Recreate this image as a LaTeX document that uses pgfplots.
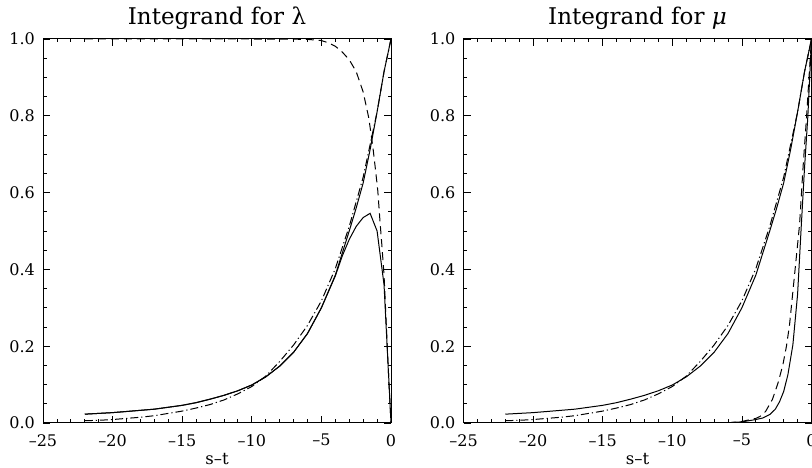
\documentclass[border=0pt]{standalone}
\usepackage{fontspec}
\setmainfont{DejaVu Serif}
\usepackage{pgfplots}
\pgfplotsset{compat=1.18}
\pgfplotsset{
  panel/.style={
    scale only axis, width=348bp, height=384bp,
    xmin=-25, xmax=0, ymin=0, ymax=1,
    xtick={-25,-20,-15,-10,-5,0},
    xticklabels={–25,–20,–15,–10,–5,0},
    ytick={0,0.2,0.4,0.6,0.8,1.0},
    yticklabels={0.0,0.2,0.4,0.6,0.8,1.0},
    minor x tick num=4, minor y tick num=3,
    major tick length=7bp, minor tick length=3.5bp,
    tick style={black, line width=0.8bp},
    axis line style={line width=1bp},
    /pgf/number format/assume math mode=true,
    tick label style={font=\fontsize{16bp}{18bp}\selectfont, inner sep=0pt},
    xticklabel style={anchor=north, yshift=-11bp},
    yticklabel style={anchor=east, xshift=-8bp},
    xlabel={s–t},
    xlabel style={font=\fontsize{16.5bp}{18bp}\selectfont, inner sep=0pt, at={(axis description cs:0.5,0)}, anchor=base, yshift=-41bp},
    title style={font=\fontsize{23bp}{26bp}\selectfont, inner sep=0pt, at={(axis description cs:0.5,1)}, anchor=base, yshift=9bp},
    every axis plot/.append style={line width=1bp, black},
  },
  dsh/.style={dash pattern=on 8bp off 5bp},
  dshdot/.style={dash pattern=on 8bp off 3bp on 1.2bp off 3bp},
}
\pgfplotstableread{
x y
-22 0.023
-21 0.025
-20 0.027
-19 0.030
-18 0.033
-17 0.036
-16 0.041
-15 0.046
-14 0.053
-13 0.062
-12 0.072
-11 0.084
-10 0.099
-9 0.120
-8 0.148
-7 0.184
-6 0.233
-5 0.300
-4 0.385
-3 0.500
-2.5 0.560
-2 0.625
-1.5 0.712
-1 0.810
-0.5 0.915
0 1.0
}\curveA
\pgfplotstableread{
x y
-22 0.006
-21 0.007
-20 0.009
-19 0.012
-18 0.015
-17 0.019
-16 0.025
-15 0.031
-14 0.039
-13 0.048
-12 0.060
-11 0.076
-10 0.095
-9 0.122
-8 0.160
-7 0.203
-6 0.254
-5 0.318
-4 0.402
-3 0.512
-2 0.640
-1 0.810
-0.5 0.915
0 1.0
}\curveDD
\pgfplotstableread{
x y
-22 0.023
-21 0.025
-20 0.027
-19 0.030
-18 0.033
-17 0.036
-16 0.041
-15 0.046
-14 0.053
-13 0.062
-12 0.072
-11 0.084
-10 0.099
-9 0.120
-8 0.148
-7 0.184
-6 0.233
-5 0.300
-4 0.383
-3.5 0.435
-3 0.478
-2.5 0.512
-2 0.535
-1.5 0.546
-1.0 0.500
-0.5 0.360
0 0.0
}\curveB
\pgfplotstableread{
x y
-22 1.0
-10 1.0
-7 0.9995
-6 0.999
-5 0.996
-4.5 0.99
-4 0.981
-3.5 0.966
-3 0.946
-2.5 0.915
-2 0.862
-1.6 0.795
-1.3 0.718
-1.1 0.655
-0.95 0.605
-0.8 0.530
-0.65 0.460
-0.5 0.385
-0.3 0.225
-0.15 0.105
0 0.0
}\curveD
\pgfplotstableread{
x y
-7 0.0
-6 0.0006
-5 0.003
-4.5 0.006
-4 0.009
-3.5 0.013
-3 0.022
-2.6 0.036
-2.3 0.055
-2 0.082
-1.7 0.125
-1.34 0.203
-1 0.335
-0.74 0.510
-0.5 0.665
-0.26 0.800
-0.13 0.900
0 1.0
}\steepS
\pgfplotstableread{
x y
-6 0.0005
-5 0.004
-4.5 0.008
-4 0.012
-3.7 0.017
-3.3 0.030
-2.8 0.062
-2.4 0.105
-2.06 0.151
-1.8 0.200
-1.58 0.255
-1.22 0.385
-0.86 0.516
-0.6 0.670
-0.35 0.800
-0.18 0.900
0 1.0
}\steepD
\begin{document}
\begin{tikzpicture}
\path[use as bounding box] (0,0) rectangle (812bp,468bp);
\begin{axis}[panel, at={(43bp,45bp)}, anchor=south west, title={Integrand for λ}]
\addplot[dshdot] table[x=x,y=y] {\curveDD};
\addplot[] table[x=x,y=y] {\curveA};
\addplot[] table[x=x,y=y] {\curveB};
\addplot[dsh] table[x=x,y=y] {\curveD};
\end{axis}
\begin{axis}[panel, at={(463.5bp,45bp)}, anchor=south west, title={Integrand for \textit{μ}}]
\addplot[dshdot] table[x=x,y=y] {\curveDD};
\addplot[] table[x=x,y=y] {\curveA};
\addplot[dsh] table[x=x,y=y] {\steepD};
\addplot[] table[x=x,y=y] {\steepS};
\end{axis}
\end{tikzpicture}
\end{document}
